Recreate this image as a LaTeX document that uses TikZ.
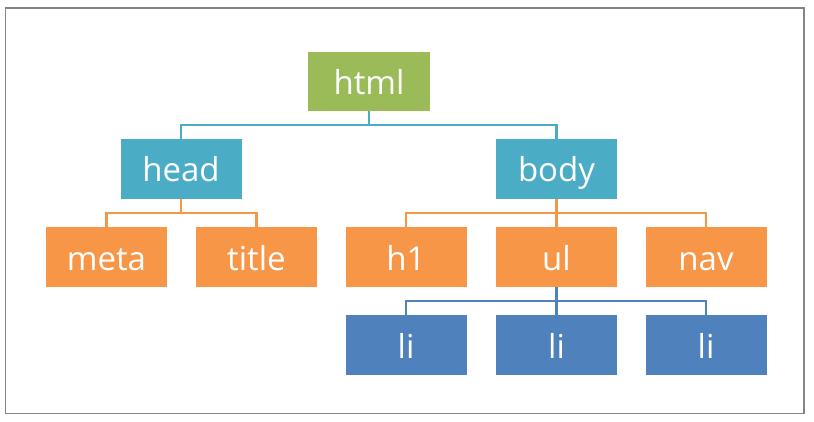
\documentclass[tikz,border=0pt]{standalone}
\usepackage{fontspec}
\setmainfont{Open Sans}
\definecolor{rootgreen}{HTML}{9BBB59}
\definecolor{secteal}{HTML}{4BACC6}
\definecolor{leaforange}{HTML}{F79646}
\definecolor{itemblue}{HTML}{4F81BD}
\definecolor{framegray}{HTML}{858585}
\begin{document}
\begin{tikzpicture}[x=1pt,y=-1pt,
  treebox/.style={rectangle, inner sep=0pt, minimum width=121pt, minimum height=60pt,
    text height=30pt, text depth=4pt,
    text=white, font=\fontsize{33}{38}\selectfont},
  rootbox/.style={treebox, fill=rootgreen, minimum width=122pt, minimum height=59pt},
  secbox/.style={treebox, fill=secteal},
  leafbox/.style={treebox, fill=leaforange},
  itembox/.style={treebox, fill=itemblue},
  link/.style={line width=2.2pt}]
  \useasboundingbox (0,0) rectangle (814,422);
  \draw[framegray, line width=1.4pt] (5.5,8) rectangle (804,413.5);

  % tree nodes
  \node[rootbox] (html) at (369,81.5) {html};
  \node[secbox] (head) at (181,169) {head};
  \node[secbox] (body) at (556.5,169) {body};
  \node[leafbox] (meta) at (106.5,257) {meta};
  \node[leafbox] (title) at (256.5,257) {title};
  \node[leafbox] (h1) at (406,257) {h1};
  \node[leafbox] (ul) at (556.5,257) {ul};
  \node[leafbox] (nav) at (706,257) {nav};
  \node[itembox] (li1) at (406,345) {li};
  \node[itembox] (li2) at (556.5,345) {li};
  \node[itembox] (li3) at (706,345) {li};

  % elbow connectors
  \foreach \c in {head,body}
    \draw[link, secteal] (html.south) -- ++(0,14) -| (\c.north);
  \foreach \c in {meta,title}
    \draw[link, leaforange] (head.south) -- ++(0,14) -| (\c.north);
  \foreach \c in {h1,ul,nav}
    \draw[link, leaforange] (body.south) -- ++(0,14) -| (\c.north);
  \foreach \c in {li1,li2,li3}
    \draw[link, itemblue] (ul.south) -- ++(0,14) -| (\c.north);
\end{tikzpicture}
\end{document}
